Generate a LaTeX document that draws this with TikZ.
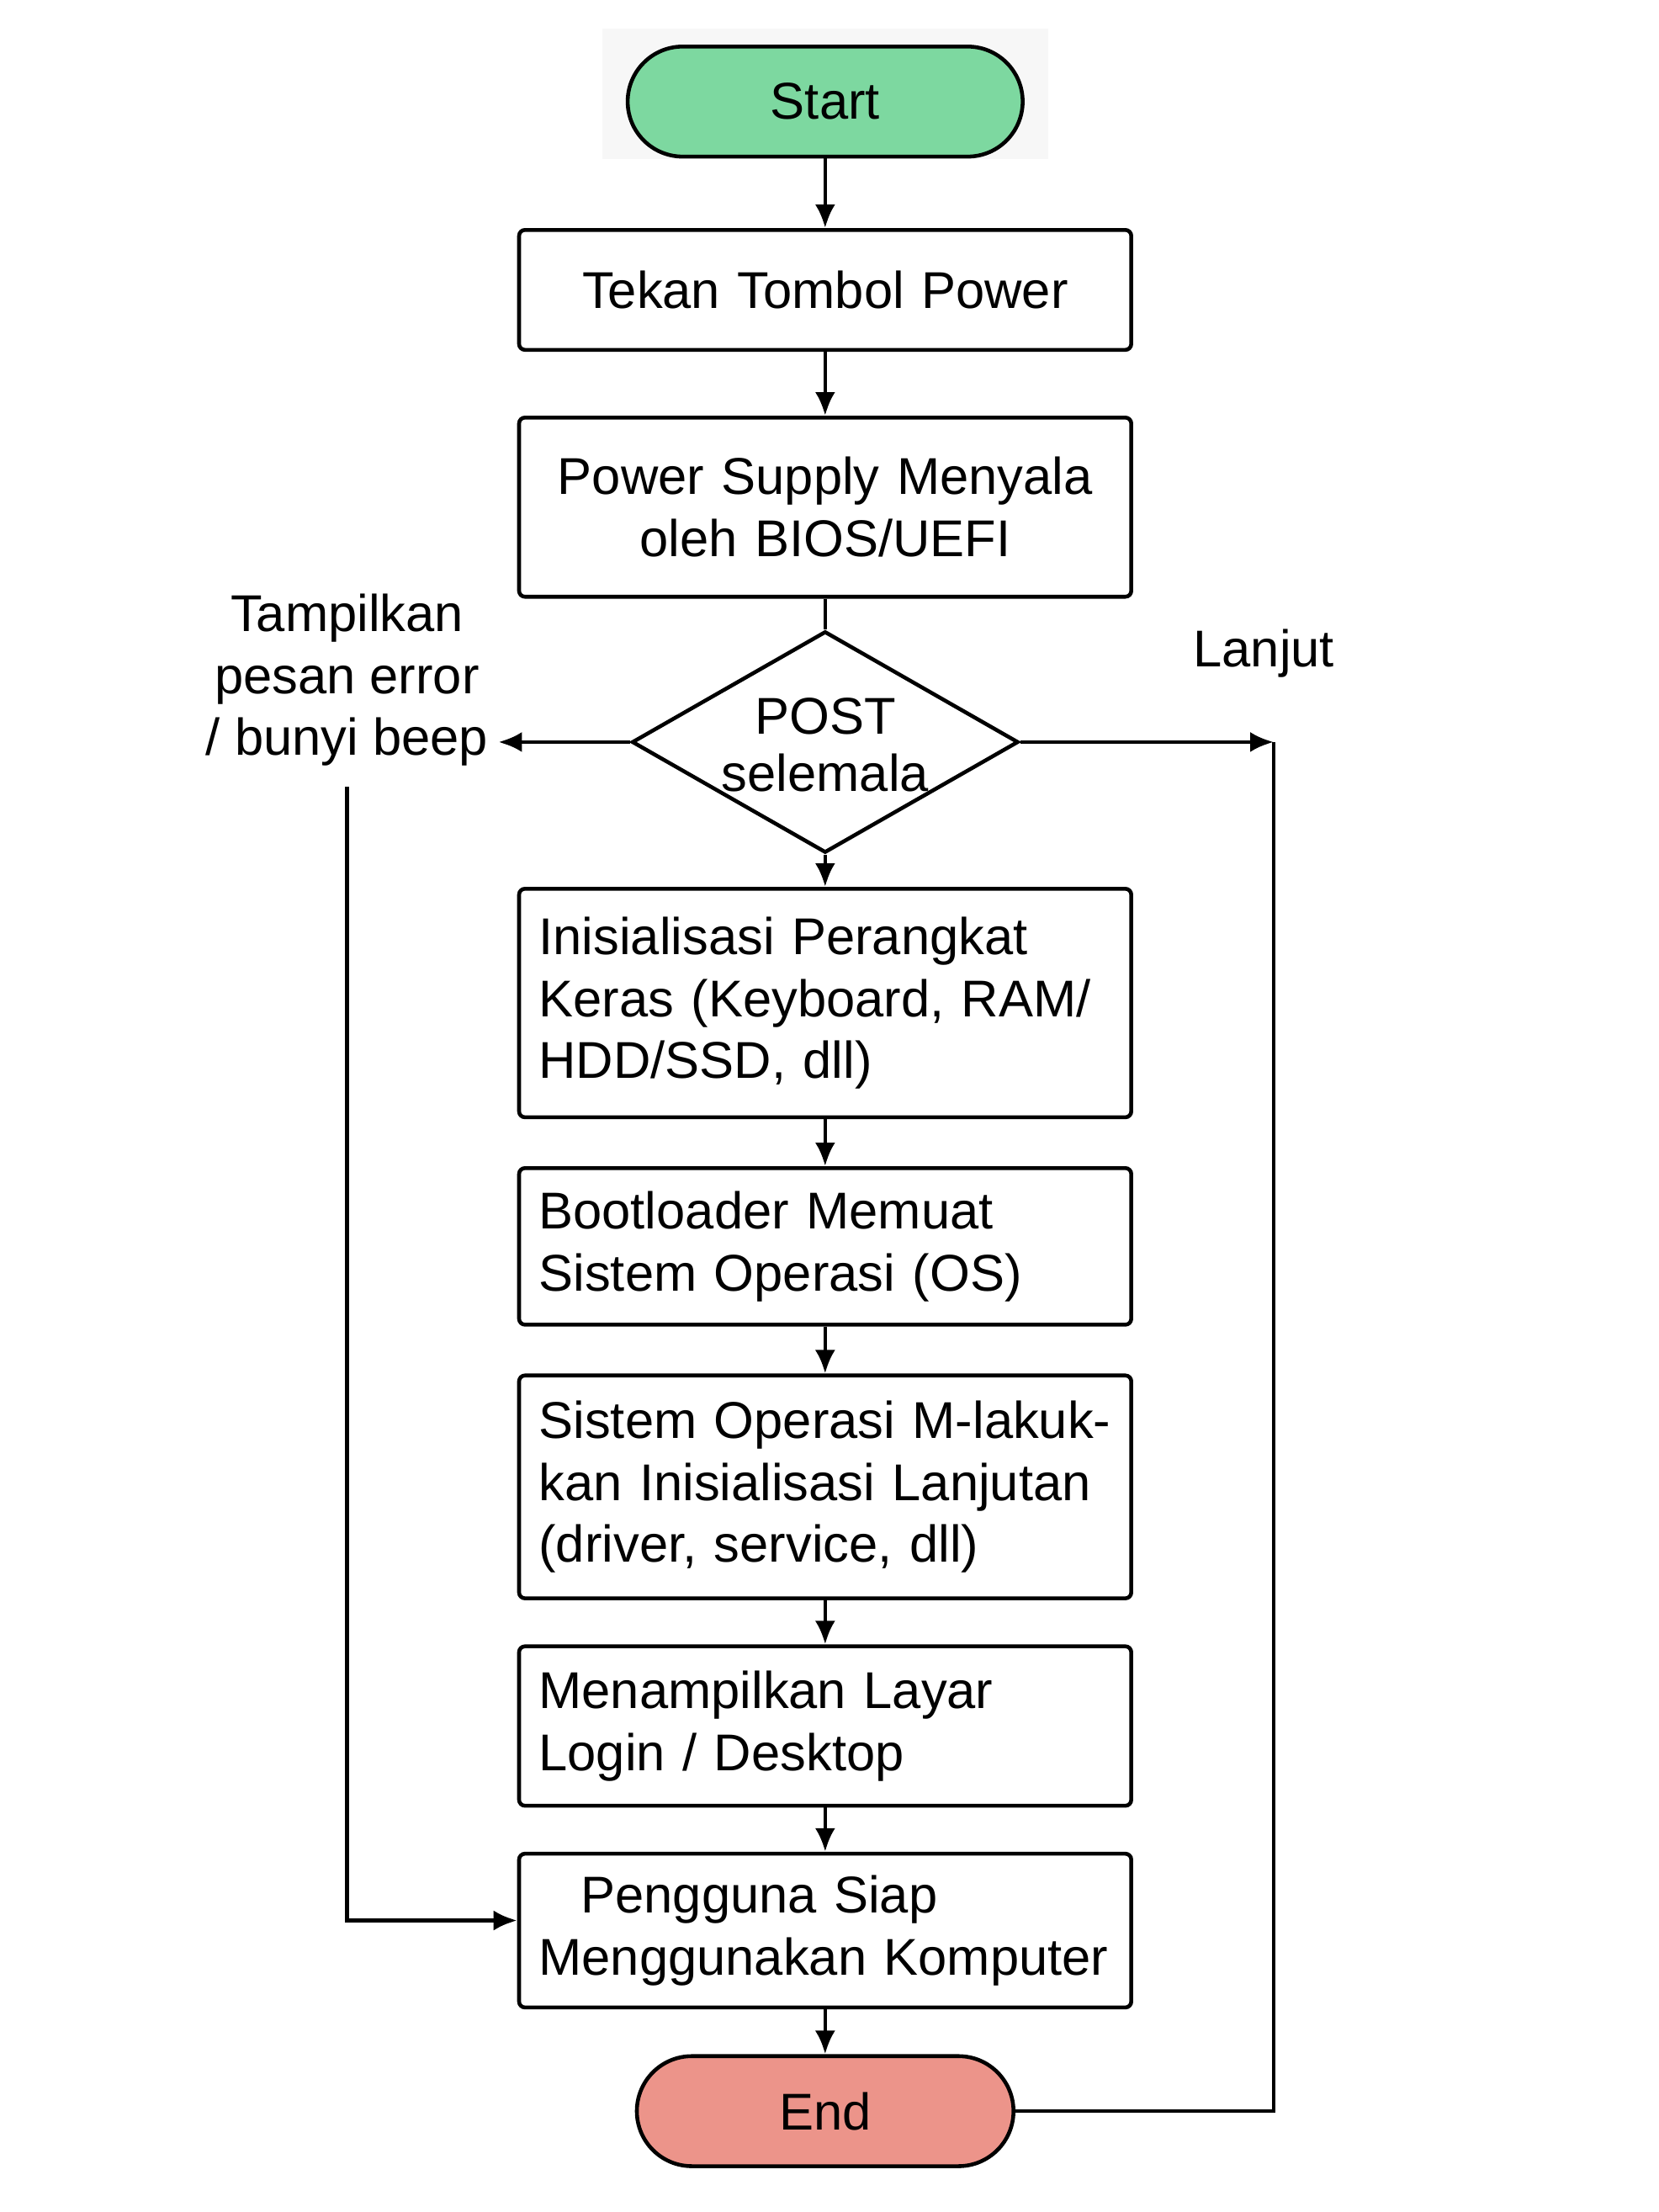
\documentclass[tikz,border=0pt]{standalone}
\usepackage{fontspec}
\setmainfont{Liberation Sans}
\usepackage{xcolor}
\usepackage{tikz}
\usetikzlibrary{shapes.geometric,shapes.misc,arrows.meta}
\newcommand{\unitpx}{0.1677mm}
\definecolor{startgreen}{HTML}{7DD8A0}
\definecolor{stopred}{HTML}{EC948A}

\begin{document}
\begin{tikzpicture}[x=\unitpx, y=-\unitpx,
  every node/.style={font=\fontsize{17.5}{21}\selectfont},
  line/.style={line width=1.3pt},
  arr/.style={line width=1.3pt, -{Latex[length=2.8mm, width=2.4mm]}},
  term/.style={rounded rectangle, draw, line width=1.3pt, minimum height=78*\unitpx},
  box/.style={draw, line width=1.3pt, rounded corners=2pt, inner xsep=14*\unitpx, text width=406*\unitpx},
  decision/.style={diamond, draw, line width=1.3pt, aspect=1.745, inner sep=0pt,
    minimum width=274*\unitpx, minimum height=157*\unitpx}]

\useasboundingbox (0,0) rectangle (1176,1568);
\fill[gray!6] (427,20) rectangle (743,113);

\node[term, fill=startgreen, minimum width=294*\unitpx] (start) at (585,72) {Start};
\node[box, align=center, minimum height=85*\unitpx] (tekan) at (585,205.5) {Tekan Tombol Power};
\node[box, align=center, minimum height=127*\unitpx] (psu) at (585,359.5) {Power Supply Menyala\\oleh BIOS/UEFI};
\node[decision] (post) at (585,526) {};
\node[align=center, font=\fontsize{17.5}{19.5}\selectfont] (postlbl) at (585,528) {POST\\selemala};
\node[box, align=left, minimum height=162*\unitpx] (init) at (585,711) {Inisialisasi Perangkat\\Keras (Keyboard, RAM/\\HDD/SSD, dll)};
\node[box, align=left, minimum height=111*\unitpx] (boot) at (585,883.5) {Bootloader Memuat\\Sistem Operasi (OS)};
\node[box, align=left, minimum height=158*\unitpx] (os) at (585,1054) {Sistem Operasi M-lakuk-\\kan Inisialisasi Lanjutan\\(driver, service, dll)};
\node[box, align=left, minimum height=113*\unitpx] (login) at (585,1223.5) {Menampilkan Layar\\Login / Desktop};
\node[box, align=left, minimum height=109*\unitpx] (user) at (585,1368.5) {\hspace*{5mm}Pengguna Siap\\Menggunakan Komputer};
\node[term, fill=stopred, minimum width=281*\unitpx] (stop) at (585,1496.5) {End};

\node[align=center] (errmsg) at (246,482) {Tampilkan\\pesan error\\/ bunyi beep};
\node (lanjut) at (896,463) {Lanjut};
\coordinate (rjoin) at (903,526);

\foreach \a/\b in {start/tekan, tekan/psu, post/init, init/boot, boot/os, os/login, login/user, user/stop}
  \draw[arr] (\a.south) -- (\b.north);
\draw[line] (psu.south) -- (post.north);

\draw[arr] (post.west) -- (post.west -| errmsg.east);
\draw[arr] ([yshift=-1.2mm]errmsg.south) |- ([yshift=1.2mm]user.west);

\draw[arr] (post.east) -- (rjoin);
\draw[line] (rjoin) |- (stop.east);

\end{tikzpicture}
\end{document}
